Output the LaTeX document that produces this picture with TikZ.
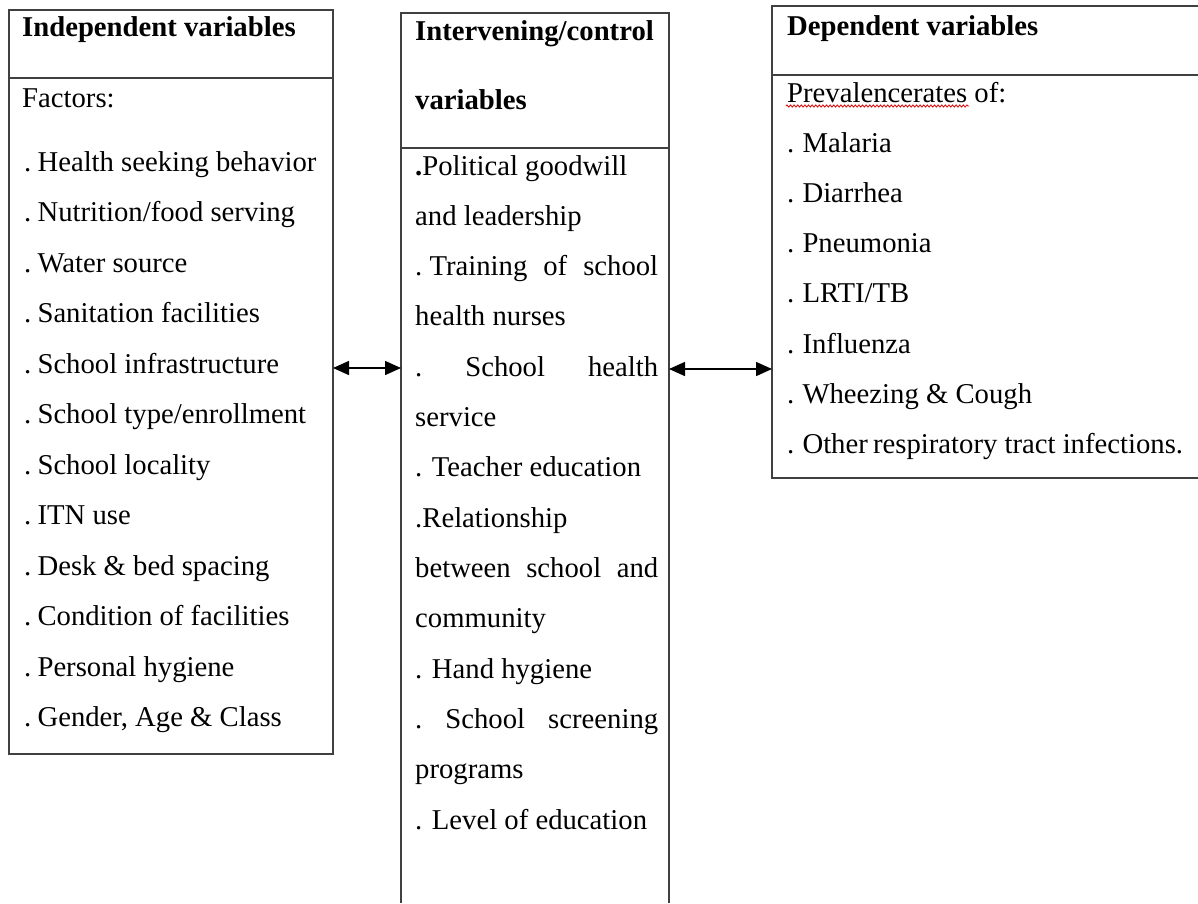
\documentclass[tikz,border=0pt]{standalone}
\usepackage{fontspec}
\setmainfont{Liberation Serif}
\usetikzlibrary{arrows.meta,decorations.pathmorphing}
\begin{document}
\begin{tikzpicture}[x=1pt,y=-1pt,
  frame/.style={draw=black!75, line width=1.6pt},
  boxnode/.style={anchor=north west, inner sep=0pt, outer sep=0pt},
  txt/.style={anchor=base west, inner sep=0pt, font=\fontsize{28.7}{34}\selectfont},
  hdr/.style={anchor=base west, inner sep=0pt, font=\fontsize{28.7}{34}\selectfont\bfseries},
  link/.style={black, line width=1.5pt, {Triangle[length=16pt,width=14pt]}-{Triangle[length=16pt,width=14pt]}},
  spell/.style={draw=red!85!black, line width=0.8pt, decorate, decoration={zigzag, amplitude=1.1pt, segment length=3.6pt}}]
\useasboundingbox (0,0) rectangle (1198,903);

% boxes
\node[boxnode, minimum width=324pt, minimum height=744pt, frame] (L) at (9,10) {};
\draw[frame] (L.west |- 0,78) -- (L.east |- 0,78);

\node[boxnode, minimum width=268pt, minimum height=890pt] (M) at (401,13) {};
\draw[frame] (M.south west) -- (M.north west) -- (M.north east) -- (M.south east);
\draw[frame] (M.west |- 0,148) -- (M.east |- 0,148);

\node[boxnode, minimum width=426pt, minimum height=472pt] (R) at (772,6) {};
\draw[frame] (R.north east) -- (R.north west) -- (R.south west) -- (R.south east);
\draw[frame] (R.west |- 0,75) -- (R.east |- 0,75);

% connectors
\coordinate (a1) at (0,368);
\coordinate (a2) at (0,369);
\draw[link] (L.east |- a1) -- (M.west |- a1);
\draw[link] (M.east |- a2) -- (R.west |- a2);

% left text
\node[hdr] (lh) at (22,36) {Independent variables};
\node[txt] (l0) at (22,107) {Factors:};
\foreach \t [count=\i from 0] in {Health seeking behavior,Nutrition/food serving,Water source,Sanitation facilities,School infrastructure,School type/enrollment,School locality,ITN use,Desk \& bed spacing,Condition of facilities,Personal hygiene,{Gender, Age \& Class}}
  \node[txt] (l\i) at (24,171+50.5*\i) {.\kern-1pt\ \t};

% middle text
\node[hdr] (mh1) at (415,40) {Intervening/control};
\node[hdr] (mh2) at (415,109) {variables};
\node[txt] (m1) at (415,175) {{\bfseries .}Political goodwill};
\node[txt] (m2) at (415,225.3) {and leadership};
\node[txt] (m3) at (415,275.6) {\makebox[243pt][s]{.\ Training\hfill of\hfill school}};
\node[txt] (m4) at (415,325.9) {health nurses};
\node[txt] (m5) at (415,376.2) {\makebox[243pt][s]{.\hfill School\hfill health}};
\node[txt] (m6) at (415,426.5) {service};
\node[txt] (m7) at (415,476.8) {. Teacher education};
\node[txt] (m8) at (415,527.1) {.Relationship};
\node[txt] (m9) at (415,577.4) {\makebox[243pt][s]{between\hfill school\hfill and}};
\node[txt] (m10) at (415,627.7) {community};
\node[txt] (m11) at (415,678) {. Hand hygiene};
\node[txt] (m12) at (415,728.3) {\makebox[243pt][s]{.\hfill School\hfill screening}};
\node[txt] (m13) at (415,778.6) {programs};
\node[txt] (m14) at (415,829) {. Level of education};

% right text
\node[hdr] (rh) at (787,35) {Dependent variables};
\node[txt] (r0) at (787,102) {Prevalencerates of:};
\draw[spell] (786,106) -- (969,106);
\foreach \t [count=\i from 0] in {Malaria,Diarrhea,Pneumonia,LRTI/TB,Influenza,Wheezing \& Cough,Other\kern-2pt\ respiratory tract infections.}
  \node[txt] (r\i) at (787,152+50.3*\i) {.\kern1pt\ \t};
\end{tikzpicture}
\end{document}
